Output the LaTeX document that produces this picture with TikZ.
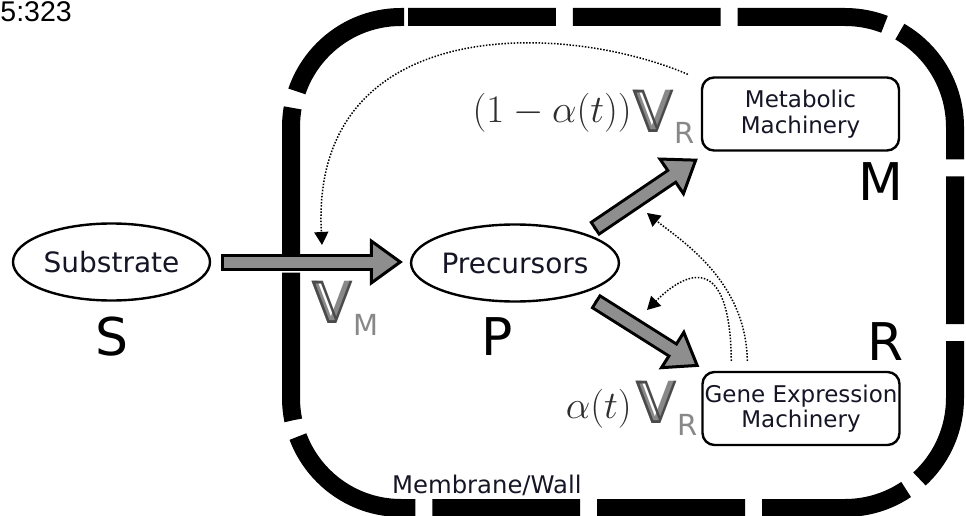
\RequirePackage{fix-cm}
\documentclass[tikz,border=0pt]{standalone}
\usepackage{fontspec}
\setmainfont{DejaVu Sans}
\newfontfamily\arialfont{Liberation Sans}
\usetikzlibrary{arrows.meta,shapes.geometric,calc}
\definecolor{arrowgray}{HTML}{8E8E8E}
\definecolor{vgray}{HTML}{888888}
\definecolor{vdark}{HTML}{4A4A4A}
\definecolor{mathgray}{HTML}{2E2E2E}
\definecolor{txt}{HTML}{151525}
\newcommand{\myfs}[1]{\fontsize{#1}{#1}\selectfont}
\newcommand{\dsV}{\rlap{\color{vgray}V}{\color{vdark}𝕍}}
\newcommand{\bigarr}[2]{%
  \draw[line width=17pt, shorten >=31pt] (#1) -- (#2);
  \draw[line width=3pt, -{Triangle[length=33pt,width=47pt,fill=arrowgray]}] (#1) -- (#2);
  \draw[line width=11pt, arrowgray, shorten <=3pt, shorten >=29pt] (#1) -- (#2);
}
\begin{document}
\begin{tikzpicture}[x=1pt,y=-1pt,
  oval/.style={ellipse, draw, line width=2.4pt, minimum width=197pt, minimum height=77pt, inner sep=0pt, font=\myfs{28}, text=txt},
  machbox/.style={rectangle, rounded corners=12pt, draw, line width=2.4pt, minimum width=197pt, minimum height=73pt, inner sep=0pt, align=center, font=\fontsize{23}{25.5}\selectfont, text=txt},
  biglab/.style={font=\myfs{52}, inner sep=0pt},
  vlab/.style={font=\myfs{58}, inner sep=0pt},
  mathlab/.style={font=\myfs{39}, text=mathgray, inner sep=0pt},
  dotarr/.style={line width=1.5pt, dash pattern=on 1.5pt off 1.6pt, -{Triangle[length=13pt,width=14pt]}},
  border/.style={line width=18pt, dash pattern=on 147.8pt off 17pt}
]
\useasboundingbox (0,0) rectangle (966,516);

% membrane / wall
\draw[border] (408,17) -- (845,17) arc[start angle=-90, end angle=0, radius=110]
  -- (955,398) arc[start angle=0, end angle=90, radius=110]
  -- (401,508) arc[start angle=90, end angle=180, radius=110]
  -- (291,127) arc[start angle=180, end angle=270, radius=110] -- (404,17);

% header text
\node[font=\arialfont\myfs{28.5}, anchor=base east, inner sep=0pt] (hdr) at (72,22) {5:323};

% nodes
\node[oval] (sub) at (111.5,262) {Substrate};
\node[oval] (pre) at (515,263) {Precursors};
\node[machbox] (met) at (800.5,114) {Metabolic\\Machinery};
\node[machbox] (gen) at (801,408.5) {Gene Expression\\Machinery};

\node[biglab] (lS) at (112,337) {S};
\node[biglab] (lP) at (497,337) {P};
\node[biglab] (lM) at (881,182) {M};
\node[biglab] (lR) at (886,342) {R};

\node[font=\myfs{24.3}, text=txt, anchor=base west, inner sep=0pt] (wall) at (392,493) {Membrane/Wall};

% rate labels
\node[vlab, anchor=base west] (vm) at (311,323) {\dsV\raisebox{-12pt}{\myfs{29}\color{vgray}M}};
\node[mathlab, anchor=base east] (al1) at (632,123) {$(1-\alpha(t))$};
\node[vlab, anchor=base west] (vr1) at (632,132) {\dsV\raisebox{-11pt}{\myfs{29}\color{vgray}R}};
\node[mathlab, anchor=base east] (al2) at (632,418) {$\alpha(t)$};
\node[vlab, anchor=base west] (vr2) at (635,423) {\dsV\raisebox{-12pt}{\myfs{29}\color{vgray}R}};

% big arrows
\coordinate (vm0) at ($(sub.east)+(10,0)$);
\coordinate (vm1) at ($(pre.west)+(-7,-1)$);
\coordinate (up0) at ($(pre.center)+(79,-34)$);
\coordinate (up1) at ($(met.south west)+(-3,7)$);
\coordinate (lo0) at ($(pre.center)+(80,38)$);
\coordinate (lo1) at ($(gen.north west)+(-2,-4)$);
\bigarr{vm0}{vm1}
\bigarr{up0}{up1}
\bigarr{lo0}{lo1}

% dotted feedback arrows
\coordinate (md0) at ($(met.north west)+(-13,-2)$);
\coordinate (md1) at (322,245);
\draw[dotarr] (md0) .. controls (560,20) and (310,15) .. (md1);
\coordinate (gd0) at ($(gen.north west)+(46,-10)$);
\coordinate (gd1) at (647,213);
\draw[dotarr] (gd0) .. controls (746,280) and (680,240) .. (gd1);
\coordinate (ge0) at ($(gen.north west)+(30,-10)$);
\coordinate (ge1) at (647,310);
\draw[dotarr] (ge0) .. controls (730,250) and (685,272) .. (ge1);
\end{tikzpicture}
\end{document}
